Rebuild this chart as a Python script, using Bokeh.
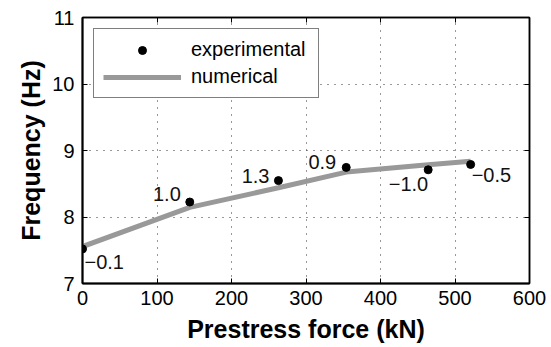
from bokeh.plotting import figure
from bokeh.models import Range1d, FixedTicker, LinearAxis, Legend, LegendItem, ColumnDataSource, CustomJSTickFormatter
from bokeh.core.properties import value
from bokeh.embed import file_html
from bokeh.resources import INLINE

# Data
exp_force = [0, 144, 263, 354, 464, 521]
exp_freq = [7.52, 8.225, 8.547, 8.746, 8.71, 8.79]
num_force = [0, 144, 263, 354, 464, 521]
num_freq = [7.555, 8.145, 8.44, 8.675, 8.785, 8.84]
err_labels = ["\u22120.1", "1.0", "1.3", "0.9", "\u22121.0", "\u22120.5"]
x_ticks = [0, 100, 200, 300, 400, 500, 600]
y_ticks = [7, 8, 9, 10, 11]

FONT = "Liberation Sans"

p = figure(width=551, height=347, output_backend="svg", toolbar_location=None,
           x_range=Range1d(0, 600), y_range=Range1d(7, 11),
           min_border_left=82, min_border_right=22, min_border_top=17, min_border_bottom=64)
p.background_fill_color = "white"
p.border_fill_color = "white"
p.outline_line_color = "black"
p.outline_line_width = 1.5

for ax, ticks in ((p.xaxis[0], x_ticks), (p.yaxis[0], y_ticks)):
    ax.ticker = FixedTicker(ticks=ticks)
    ax.major_tick_in = 5
    ax.major_tick_out = 0
    ax.minor_tick_line_color = None
    ax.axis_line_width = 2
    ax.axis_line_color = "black"
    ax.major_tick_line_color = "black"
    ax.major_label_text_font = FONT
    ax.major_label_text_font_size = "20px"
    ax.major_label_text_color = "black"
    ax.major_label_standoff = 7
    ax.axis_label_text_font = FONT
    ax.axis_label_text_font_size = "25px"
    ax.axis_label_text_font_style = "bold"
    ax.axis_label_text_color = "black"
    ax.axis_label_standoff = 7

p.xaxis.axis_label = "Prestress force (kN)"
p.yaxis.axis_label = "Frequency (Hz)"
p.yaxis.major_label_standoff = 8
p.yaxis.axis_label_standoff = 4

for loc, ticks in (("above", x_ticks), ("right", y_ticks)):
    a = LinearAxis(ticker=FixedTicker(ticks=ticks),
                   formatter=CustomJSTickFormatter(code="return ''"),
                   major_tick_in=5, major_tick_out=0, minor_tick_line_color=None,
                   major_label_text_font_size="0px", major_label_standoff=0,
                   axis_line_color="black", axis_line_width=1.5)
    p.add_layout(a, loc)

p.xgrid.ticker = FixedTicker(ticks=x_ticks)
p.ygrid.ticker = FixedTicker(ticks=y_ticks)
p.grid.grid_line_color = "#333333"
p.grid.grid_line_dash = "1 6"
p.grid.grid_line_width = 1

num_r = p.line(num_force, num_freq, line_color="#999999", line_width=5)
exp_r = p.scatter(exp_force, exp_freq, size=8, color="black")

# error labels
x_off = [2, -9, -9, -10, 0, 1]
y_off = [13, -8, -5, -5, 14, 11]
align = ["left", "right", "right", "right", "right", "left"]
src = ColumnDataSource(dict(x=exp_force, y=exp_freq, t=err_labels, xo=x_off, yo=y_off, a=align))
p.text(x="x", y="y", text="t", x_offset="xo", y_offset="yo", text_align="a",
       text_baseline="middle", text_font=value(FONT), text_font_size="20px",
       text_color="#111111", source=src)

legend = Legend(items=[LegendItem(label="experimental", renderers=[exp_r]),
                       LegendItem(label="numerical", renderers=[num_r])],
                location="top_left", margin=11, padding=9, spacing=4,
                glyph_width=78, glyph_height=20, label_height=20, label_width=118,
                label_standoff=10, label_text_font=FONT, label_text_font_size="20px",
                label_text_color="black",
                border_line_color="black", border_line_width=1.5,
                background_fill_color="white", background_fill_alpha=1.0)
p.add_layout(legend, "center")

open("out.html", "w").write(file_html(p, INLINE))
